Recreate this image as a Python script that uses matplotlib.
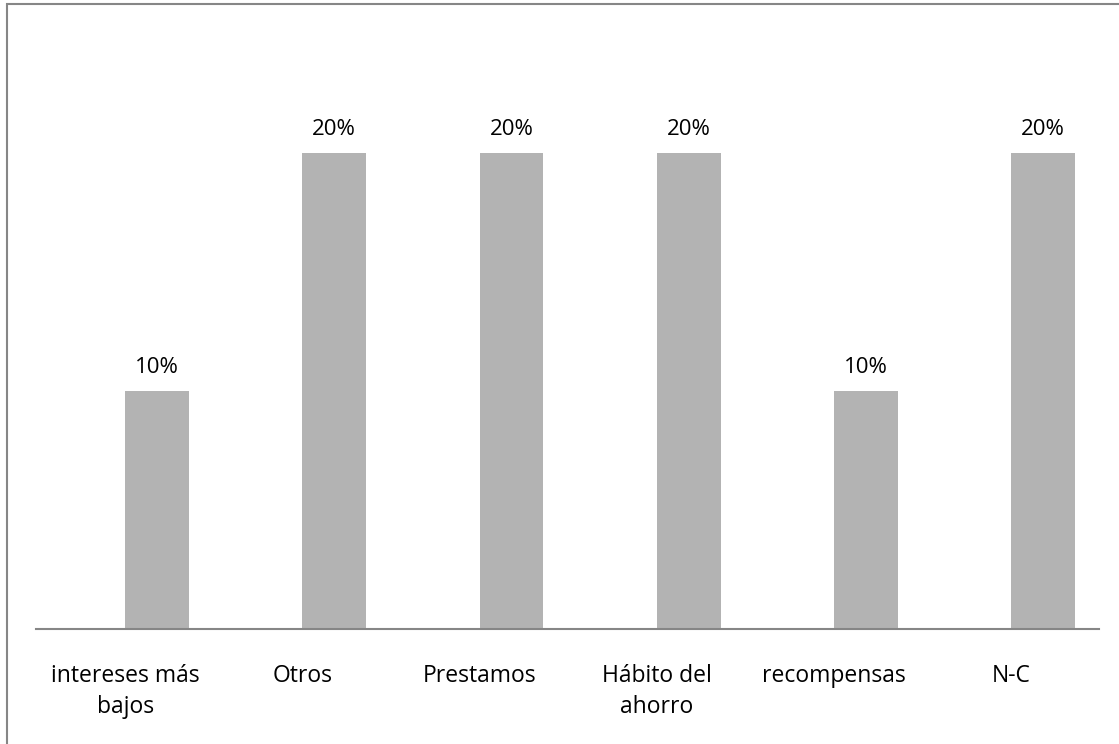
import matplotlib.pyplot as plt
from matplotlib.patches import Rectangle

categories = ['intereses más\nbajos', 'Otros', 'Prestamos', 'Hábito del\nahorro', 'recompensas', 'N-C']
values = [10, 20, 20, 20, 10, 20]
value_labels = ['10%', '20%', '20%', '20%', '10%', '20%']

plt.rcParams['font.family'] = ['Open Sans', 'DejaVu Sans']

fig = plt.figure(figsize=(11.19, 7.44), dpi=100)
ax = fig.add_axes([36/1119, 115/744, 1063/1119, 595/744])

x = list(range(len(categories)))
ax.bar(x, values, width=0.36, color='#B3B3B3', zorder=2)

for xi, v, lab in zip(x, values, value_labels):
    ax.annotate(lab, (xi, v), xytext=(0, 13), textcoords='offset points',
                ha='center', va='baseline', fontsize=16, color='black')

ax.set_xlim(-0.683, 5.316)
ax.set_ylim(0, 25)
# category labels sit a little left of the bars in the original
ax.set_xticks([xi - 0.18 for xi in x])
ax.set_xticklabels(categories, fontsize=16.5, linespacing=1.4)
ax.tick_params(axis='x', length=0, pad=25)
ax.set_yticks([])
for s in ['top', 'right', 'left']:
    ax.spines[s].set_visible(False)
ax.spines['bottom'].set_color('#868686')
ax.spines['bottom'].set_linewidth(1.5)

# chart frame (only top and left edges visible in the crop)
fig.patches.append(Rectangle((7/1119, -0.1), 1.2, (740/744) + 0.1, transform=fig.transFigure,
                             fill=False, edgecolor='#868686', linewidth=1.5))

fig.savefig('out.png', dpi=100)
